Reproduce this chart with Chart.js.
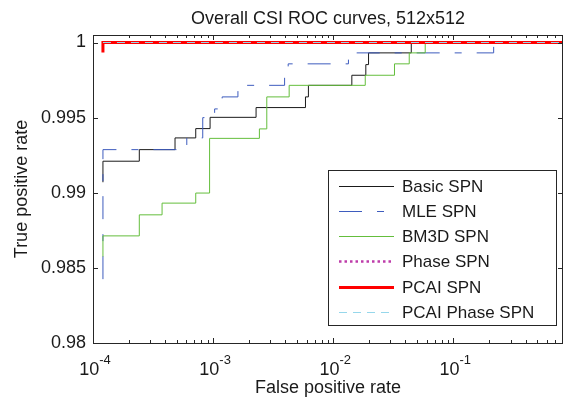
<!DOCTYPE html>
<html><head><meta charset="utf-8">
<script src="https://cdn.jsdelivr.net/npm/chart.js@4"></script>
<style>html,body{margin:0;padding:0;background:#fff;}#wrap{width:565px;height:401px;}</style>
</head><body><div id="wrap"><canvas id="c" width="565" height="401"></canvas></div>
<script>
// ---- data ----
const seriesNames = ['Basic SPN','MLE SPN','BM3D SPN','Phase SPN','PCAI SPN','PCAI Phase SPN'];

const basicFPR = [1.21e-4, 1.21e-4, 2.43e-4, 4.82e-4, 7.17e-4, 9.44e-4, 2.28e-3, 5.88e-3, 6.22e-3, 1.43e-2, 1.87e-2, 1.97e-2, 4.47e-2, 0.82];
const basicTPR = [0.9907, 0.9921, 0.99287, 0.99365, 0.99427, 0.99502, 0.99567, 0.99638, 0.99715, 0.99782, 0.99853, 0.99931, 1.0, 1.0];

const mleFPR = [1.21e-4, 1.21e-4, 6.04e-4, 8.2e-4, 1.03e-3, 1.19e-3, 1.61e-3, 3.94e-3, 4.22e-3, 1.34e-2, 0.217, 0.82];
const mleTPR = [0.98425, 0.99287, 0.99365, 0.995, 0.99558, 0.99638, 0.99715, 0.99787, 0.99858, 0.99931, 1.0, 1.0];

const bm3dFPR = [1.21e-4, 1.21e-4, 2.43e-4, 3.76e-4, 7.17e-4, 9.35e-4, 2.43e-3, 2.80e-3, 4.30e-3, 1.85e-2, 3.24e-2, 4.30e-2, 5.84e-2, 0.82];
const bm3dTPR = [0.98575, 0.98713, 0.98853, 0.98931, 0.98998, 0.99362, 0.99425, 0.99638, 0.99715, 0.99782, 0.99858, 0.99931, 1.0, 1.0];

const phaseFPR = [1.21e-4, 0.82];
const phaseTPR = [1.0, 1.0];

const pcaiFPR = [1.21e-4, 1.21e-4, 0.82];
const pcaiTPR = [0.99933, 1.0, 1.0];

const pcaiPhaseFPR = [1.21e-4, 0.82];
const pcaiPhaseTPR = [1.0, 1.0];

const xMajorTicks = [1e-4, 1e-3, 1e-2, 1e-1];
const xTickBase = ['10', '10', '10', '10'];
const xTickExp = ['-4', '-3', '-2', '-1'];
const yTickValues = [0.98, 0.985, 0.99, 0.995, 1];
const yTickLabels = ['0.98', '0.985', '0.99', '0.995', '1'];
const xMin = 1e-4, xMax = 0.82, yMin = 0.98, yMax = 1.0005;

// ---- styles ----
const FONT = 'Liberation Sans, Arial, Helvetica, sans-serif';
const TXT = '#1a1a1a';
const styles = [
  {color: '#1a1a1a', width: 1, dash: []},
  {color: 'rgb(62,92,190)', width: 1, dash: [23, 15, 7, 15]},
  {color: 'rgb(100,190,60)', width: 1, dash: []},
  {color: 'rgb(190,60,170)', width: 2.5, dash: [2.5, 3]},
  {color: 'rgb(255,0,0)', width: 3, dash: []},
  {color: 'rgb(150,215,235)', width: 1.2, dash: [8, 6]}
];
const seriesX = [basicFPR, mleFPR, bm3dFPR, phaseFPR, pcaiFPR, pcaiPhaseFPR];
const seriesY = [basicTPR, mleTPR, bm3dTPR, phaseTPR, pcaiTPR, pcaiPhaseTPR];

const datasets = seriesNames.map((name, i) => ({
  label: name,
  data: seriesX[i].map((x, k) => ({x: x, y: seriesY[i][k]})),
  borderColor: styles[i].color,
  borderWidth: styles[i].width,
  borderDash: styles[i].dash,
  borderCapStyle: 'butt',
  pointRadius: 0,
  fill: false,
  stepped: 'before',
  order: seriesNames.length - i
}));

const framePlugin = {
  id: 'frame',
  afterDatasetsDraw(chart) {
    const ctx = chart.ctx, a = chart.chartArea;
    const xs = chart.scales.x, ys = chart.scales.y;
    ctx.save();
    ctx.strokeStyle = '#262626';
    ctx.lineWidth = 1;
    ctx.setLineDash([]);
    ctx.beginPath();
    // x ticks (major + minor) top and bottom, inward
    for (let d = -4; d <= -1; d++) {
      for (let m = 1; m <= 9; m++) {
        const v = m * Math.pow(10, d);
        if (v > xMax) continue;
        const px = Math.round(xs.getPixelForValue(v)) + 0.5;
        const len = m === 1 ? 5 : 3;
        ctx.moveTo(px, a.bottom); ctx.lineTo(px, a.bottom - len);
        ctx.moveTo(px, a.top); ctx.lineTo(px, a.top + len);
      }
    }
    // y ticks left and right, inward
    yTickValues.forEach(v => {
      const py = Math.round(ys.getPixelForValue(v)) + 0.5;
      ctx.moveTo(a.left, py); ctx.lineTo(a.left + 5, py);
      ctx.moveTo(a.right, py); ctx.lineTo(a.right - 5, py);
    });
    ctx.stroke();
    ctx.strokeRect(Math.round(a.left) + 0.5, Math.round(a.top) + 0.5,
                   Math.round(a.right - a.left) - 1, Math.round(a.bottom - a.top));
    ctx.restore();
  },
  afterDraw(chart) {
    const ctx = chart.ctx, xs = chart.scales.x;
    ctx.save();
    ctx.fillStyle = TXT;
    ctx.textBaseline = 'alphabetic';
    ctx.textAlign = 'left';
    // x tick labels with superscript exponents
    xMajorTicks.forEach((v, i) => {
      const px = xs.getPixelForValue(v);
      ctx.font = '18px ' + FONT;
      const w1 = ctx.measureText(xTickBase[i]).width;
      ctx.font = '13px ' + FONT;
      const w2 = ctx.measureText(xTickExp[i]).width;
      const sx = px - (w1 + w2) / 2 + 2;
      ctx.font = '18px ' + FONT;
      ctx.fillText(xTickBase[i], sx, 375);
      ctx.font = '13px ' + FONT;
      ctx.fillText(xTickExp[i], sx + w1, 364);
    });
    // legend
    const bx = 328.5, by = 170.5, bw = 228, bh = 155;
    ctx.fillStyle = '#fff';
    ctx.fillRect(bx, by, bw, bh);
    ctx.strokeStyle = '#262626';
    ctx.lineWidth = 1;
    ctx.setLineDash([]);
    ctx.strokeRect(bx, by, bw, bh);
    chart.data.datasets.forEach((ds, i) => {
      const y = Math.round(185.7 + i * 25.2) + 0.5;
      ctx.save();
      ctx.strokeStyle = ds.borderColor;
      ctx.lineWidth = ds.borderWidth;
      ctx.setLineDash(ds.borderDash || []);
      ctx.lineCap = 'butt';
      ctx.beginPath();
      ctx.moveTo(339, y); ctx.lineTo(394, y);
      ctx.stroke();
      ctx.restore();
      ctx.fillStyle = TXT;
      ctx.font = '17px ' + FONT;
      ctx.textBaseline = 'middle';
      ctx.fillText(ds.label, 402, y + 1);
    });
    ctx.restore();
  }
};

new Chart(document.getElementById('c'), {
  type: 'line',
  data: {datasets: datasets},
  options: {
    responsive: false,
    devicePixelRatio: 1,
    animation: false,
    events: [],
    layout: {padding: {left: 0, right: 2, top: 0, bottom: 0}},
    plugins: {
      legend: {display: false},
      tooltip: {enabled: false},
      title: {
        display: true, fullSize: false,
        text: 'Overall CSI ROC curves, 512x512',
        color: TXT,
        font: {family: FONT, size: 18, weight: 'normal'},
        padding: {top: 8, bottom: 5.4}
      }
    },
    scales: {
      x: {
        type: 'logarithmic', min: xMin, max: xMax,
        grid: {display: false, drawTicks: false}, border: {display: false},
        ticks: {display: false},
        title: {display: true, text: 'False positive rate', color: TXT,
                font: {family: FONT, size: 18}, padding: {top: 0, bottom: 2}},
        afterFit(s) { s.height = 58; }
      },
      y: {
        type: 'linear', min: yMin, max: yMax,
        grid: {display: false, drawTicks: false}, border: {display: false},
        afterBuildTicks(s) { s.ticks = yTickValues.map(v => ({value: v})); },
        ticks: {padding: 7, color: TXT, font: {family: FONT, size: 18},
                callback: (v, i) => yTickLabels[i]},
        title: {display: true, text: 'True positive rate', color: TXT,
                font: {family: FONT, size: 18}, padding: {top: 11, bottom: 0}},
        afterFit(s) { s.width = 93; }
      }
    }
  },
  plugins: [framePlugin]
});
</script>
</body></html>
